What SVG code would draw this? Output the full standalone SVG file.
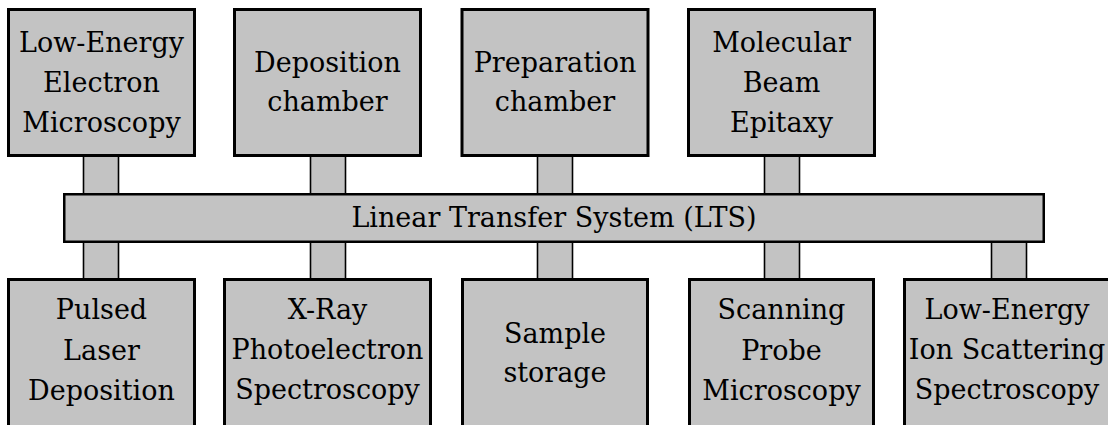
<svg xmlns="http://www.w3.org/2000/svg" width="1108" height="425" viewBox="0 0 1108 425">
<style>
.box{fill:#c3c3c3;stroke:#000;stroke-width:3}
.bar{fill:#c3c3c3;stroke:#000;stroke-width:2.5}
.stub{fill:#c3c3c3;stroke:#000;stroke-width:1.6}
text{font-family:"DejaVu Serif",serif;font-size:27px;fill:#000;text-anchor:middle}
</style>
<rect width="1108" height="425" fill="#fff"/>
<g id="connectors">
<rect class="stub" x="83.5" y="156" width="35" height="38"/>
<rect class="stub" x="310.5" y="156" width="35" height="38"/>
<rect class="stub" x="537.5" y="156" width="35" height="38"/>
<rect class="stub" x="764.5" y="156" width="35" height="38"/>
<rect class="stub" x="83.5" y="242" width="35" height="37"/>
<rect class="stub" x="310.5" y="242" width="35" height="37"/>
<rect class="stub" x="537.5" y="242" width="35" height="37"/>
<rect class="stub" x="764.5" y="242" width="35" height="37"/>
<rect class="stub" x="991.5" y="242" width="35" height="37"/>
</g>
<g id="lts">
<rect class="bar" x="64.25" y="194.25" width="979.5" height="47.5"/>
<text x="554" y="227">Linear Transfer System (LTS)</text>
</g>
<g id="leem">
<rect class="box" x="8.5" y="9.5" width="186" height="146"/>
<text x="101.5" y="52">Low-Energy</text>
<text x="101.5" y="92">Electron</text>
<text x="101.5" y="132">Microscopy</text>
</g>
<g id="deposition">
<rect class="box" x="234.5" y="9.5" width="186" height="146"/>
<text x="327.5" y="72">Deposition</text>
<text x="327.5" y="111">chamber</text>
</g>
<g id="preparation">
<rect class="box" x="462" y="9.5" width="186" height="146"/>
<text x="555" y="72">Preparation</text>
<text x="555" y="111">chamber</text>
</g>
<g id="mbe">
<rect class="box" x="688.5" y="9.5" width="186" height="146"/>
<text x="781.5" y="52">Molecular</text>
<text x="781.5" y="92">Beam</text>
<text x="781.5" y="132">Epitaxy</text>
</g>
<g id="pld">
<rect class="box" x="8.5" y="279.5" width="186" height="150"/>
<text x="101.5" y="319">Pulsed</text>
<text x="101.5" y="360">Laser</text>
<text x="101.5" y="400">Deposition</text>
</g>
<g id="xps">
<rect class="box" x="224.5" y="279.5" width="206" height="150"/>
<text x="327.5" y="319">X-Ray</text>
<text x="327.5" y="359">Photoelectron</text>
<text x="327.5" y="399">Spectroscopy</text>
</g>
<g id="storage">
<rect class="box" x="462.5" y="279.5" width="185" height="150"/>
<text x="555" y="343">Sample</text>
<text x="555" y="382">storage</text>
</g>
<g id="spm">
<rect class="box" x="689.5" y="279.5" width="184" height="150"/>
<text x="781.5" y="319">Scanning</text>
<text x="781.5" y="360">Probe</text>
<text x="781.5" y="400">Microscopy</text>
</g>
<g id="leis">
<rect class="box" x="904.5" y="279.5" width="212" height="150"/>
<text x="1007" y="319">Low-Energy</text>
<text x="1007" y="359">Ion Scattering</text>
<text x="1007" y="399">Spectroscopy</text>
</g>
</svg>
